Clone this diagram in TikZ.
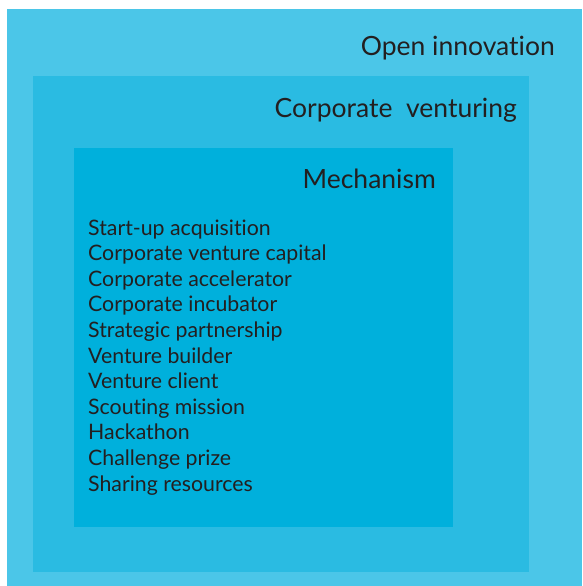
\documentclass[tikz,border=0pt]{standalone}
\usepackage{fontspec}
\setmainfont[Ligatures=NoCommon]{Lato}
\usepackage{tikz}
\usepackage{xcolor}
\definecolor{OpenInnoBg}{HTML}{4BC6E8}
\definecolor{CorpVentBg}{HTML}{2ABBE2}
\definecolor{MechBg}{HTML}{00B0DC}
\definecolor{LabelInk}{HTML}{231F20}
\newcommand{\picsizex}{582pt}
\newcommand{\picsizey}{586pt}
\newcommand{\openxs}{7pt}
\newcommand{\openys}{9pt}
\newcommand{\corpxs}{33pt}
\newcommand{\corpys}{76pt}
\newcommand{\corpxe}{529pt}
\newcommand{\corpye}{572pt}
\newcommand{\mechxs}{74pt}
\newcommand{\mechys}{148pt}
\newcommand{\mechxe}{453pt}
\newcommand{\mechye}{527pt}
\newcommand{\openpart}{
  \pgfpathrectanglecorners{\pgfpoint{\openxs}{-\openys}}
    {\pgfpoint{\picsizex}{-\picsizey}}
}
\newcommand{\corppart}{
  \pgfpathrectanglecorners{\pgfpoint{\corpxs}{-\corpys}}
    {\pgfpoint{\corpxe}{-\corpye}}
}
\newcommand{\mechpart}{
  \pgfpathrectanglecorners{\pgfpoint{\mechxs}{-\mechys}}
    {\pgfpoint{\mechxe}{-\mechye}}
}
\tikzset{
  levellabel/.style={anchor=base east,inner sep=0pt,text=LabelInk,
    font=\fontsize{26.5}{30}\selectfont},
  mechitems/.style={anchor=base west,inner sep=0pt,text=LabelInk,
    align=left,font=\fontsize{21.3}{25.6}\selectfont}
}
\begin{document}
\begin{tikzpicture}[anchor=base]
    \useasboundingbox (0pt, 0pt) rectangle (\picsizex, -\picsizey);
    {
      \color{OpenInnoBg}
      \openpart
      \pgfusepath{fill}
    }
    {
      \color{CorpVentBg}
      \corppart
      \pgfusepath{fill}
    }
    {
      \color{MechBg}
      \mechpart
      \pgfusepath{fill}
    }
    % level titles
    \node[levellabel] (openlbl) at (555pt, -56pt) {Open innovation};
    \node[levellabel] (corplbl) at (517pt, -117pt) {Corporate\ \ venturing};
    \node[levellabel] (mechlbl) at (436pt, -188pt) {Mechanism};
    % mechanisms, placed by the baseline of the last line
    \node[mechitems] (mechlist) at (88pt, -491pt) {Start-up acquisition\\
      Corporate venture capital\\
      Corporate accelerator\\
      Corporate incubator\\
      Strategic partnership\\
      Venture builder\\
      Venture client\\
      Scouting mission\\
      Hackathon\\
      Challenge prize\\
      Sharing resources};
  \end{tikzpicture}
\end{document}
